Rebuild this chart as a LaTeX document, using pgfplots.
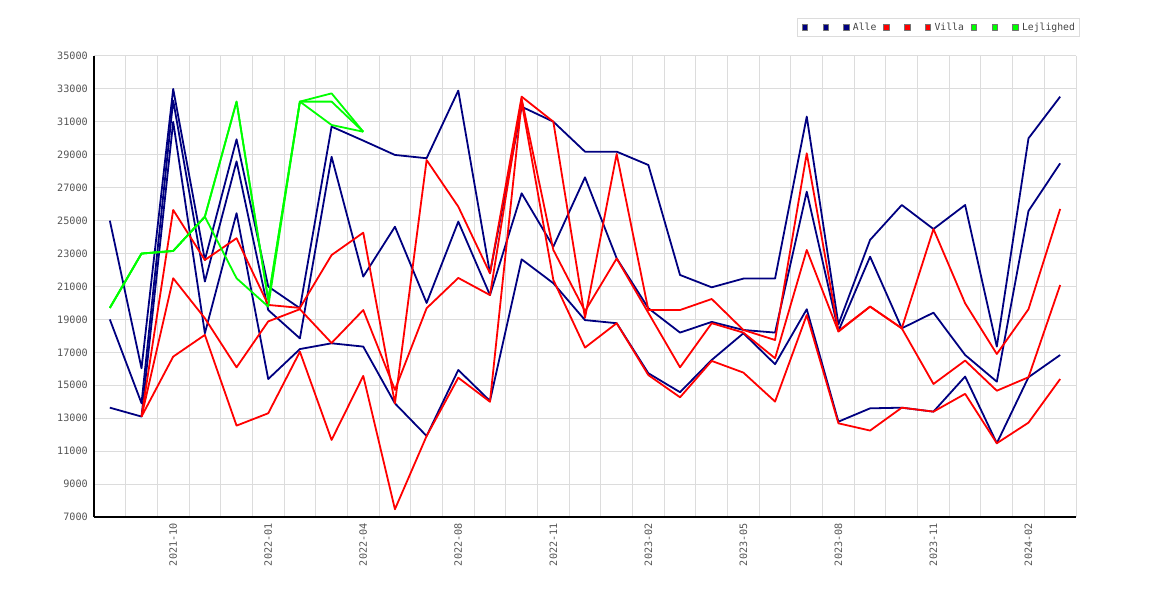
\documentclass[border=0pt]{standalone}
\usepackage{fontspec}
\setmonofont{DejaVu Sans Mono}
\usepackage{pgfplots}
\pgfplotsset{compat=1.18}
\definecolor{navyc}{HTML}{000080}
\definecolor{redc}{HTML}{FF0000}
\definecolor{greenc}{HTML}{00FF00}
\definecolor{gridc}{HTML}{DCDCDC}
\definecolor{tickc}{HTML}{555555}
\definecolor{legc}{HTML}{444444}
\pgfplotsset{
  sq/.style={legend image code/.code={\draw[line width=0.6bp, draw=black!55, fill=#1] (0bp,-2.75bp) rectangle (5.5bp,2.75bp);}},
  ser/.style={#1, line width=1.8bp, line join=round, sq=#1},
}
\begin{document}
\begin{tikzpicture}
\useasboundingbox (0,0) rectangle (1170bp,600bp);
\begin{axis}[
  at={(94bp,83bp)}, anchor=south west,
  scale only axis, width=982bp, height=461bp,
  xmin=-0.5, xmax=30.5, ymin=7000, ymax=35000,
  scaled y ticks=false, scaled x ticks=false,
  axis x line*=bottom, axis y line*=left,
  axis line style={-, line width=1.2bp, black},
  xtick={2,5,8,11,14,17,20,23,26,29},
  xticklabels={2021-10,2022-01,2022-04,2022-08,2022-11,2023-02,2023-05,2023-08,2023-11,2024-02},
  minor xtick={-0.5,0.5,...,30.5},
  ytick={7000,9000,...,35000},
  yticklabels={7000,9000,11000,13000,15000,17000,19000,21000,23000,25000,27000,29000,31000,33000,35000},
  xmajorgrids=false, xminorgrids=true, ymajorgrids=true,
  major grid style={draw=gridc, line width=1bp},
  minor grid style={draw=gridc, line width=1bp},
  major tick length=0pt, minor tick length=0pt,
  tick label style={font=\ttfamily\fontsize{10.2}{11}\selectfont, text=tickc},
  yticklabel style={anchor=east, inner sep=0pt, xshift=-6bp},
  xticklabel style={rotate=90, anchor=east, inner sep=0pt, xshift=-6bp},
  legend columns=-1,
  legend style={at={(0.716,1.0824)}, anchor=north west, draw=gridc, line width=1bp, fill=white,
    font=\ttfamily\fontsize{9.8}{11}\selectfont, text=legc,
    inner xsep=4.2bp, inner ysep=4.5bp,
    nodes={inner sep=0pt},
    /tikz/every odd column/.append style={column sep=3.6bp},
    /tikz/every even column/.append style={column sep=7bp}},
]
% Alle
\addplot[ser=navyc] coordinates {(0,25000)(1,16030)(2,33000)(3,22610)(4,29940)(5,21000)(6,19680)(7,30710)(8,29860)(9,28990)(10,28790)(11,32900)(12,21800)(13,31920)(14,31010)(15,29190)(16,29190)(17,28380)(18,21700)(19,20950)(20,21480)(21,21480)(22,31320)(23,18700)(24,23830)(25,25950)(26,24490)(27,25950)(28,17350)(29,30000)(30,32530)};
\addlegendentry{\hspace*{4bp}}
\addplot[ser=navyc] coordinates {(0,19000)(1,13910)(2,32300)(3,21300)(4,28600)(5,19570)(6,17850)(7,28880)(8,21600)(9,24630)(10,20000)(11,24940)(12,20480)(13,26660)(14,23420)(15,27630)(16,22710)(17,19680)(18,18200)(19,18850)(20,18360)(21,18200)(22,26760)(23,18300)(24,22810)(25,18460)(26,19410)(27,16840)(28,15220)(29,25590)(30,28480)};
\addlegendentry{\hspace*{4bp}}
\addplot[ser=navyc] coordinates {(0,13640)(1,13100)(2,31000)(3,18160)(4,25450)(5,15380)(6,17200)(7,17550)(8,17350)(9,13900)(10,11920)(11,15930)(12,14050)(13,22650)(14,21200)(15,18960)(16,18770)(17,15730)(18,14580)(19,16540)(20,18160)(21,16280)(22,19620)(23,12790)(24,13600)(25,13640)(26,13400)(27,15530)(28,11480)(29,15490)(30,16840)};
\addlegendentry{Alle}
% Villa
\addplot[ser=redc] coordinates {(1,13100)(2,25650)(3,22610)(4,23930)(5,19880)(6,19700)(7,22910)(8,24270)(9,13900)(10,28680)(11,25850)(12,21800)(13,32530)(14,31010)(15,19100)(16,29050)(17,19570)(18,19570)(19,20240)(20,18360)(21,17750)(22,29090)(23,18300)(24,19780)(25,18460)(26,24490)(27,19980)(28,16900)(29,19620)(30,25710)};
\addlegendentry{\hspace*{4bp}}
\addplot[ser=redc] coordinates {(1,13100)(2,21500)(3,19070)(4,16090)(5,18880)(6,19620)(7,17570)(8,19570)(9,14720)(10,19680)(11,21520)(12,20480)(13,32400)(14,23220)(15,19500)(16,22700)(17,19400)(18,16090)(19,18770)(20,18200)(21,16640)(22,23220)(23,18260)(24,19780)(25,18460)(26,15080)(27,16500)(28,14670)(29,15490)(30,21090)};
\addlegendentry{\hspace*{4bp}}
\addplot[ser=redc] coordinates {(1,13100)(2,16740)(3,18060)(4,12550)(5,13300)(6,17040)(7,11680)(8,15570)(9,7470)(10,11920)(11,15460)(12,14000)(13,32200)(14,21400)(15,17290)(16,18770)(17,15620)(18,14270)(19,16480)(20,15770)(21,14010)(22,19270)(23,12690)(24,12250)(25,13640)(26,13400)(27,14480)(28,11480)(29,12730)(30,15380)};
\addlegendentry{Villa}
% Lejlighed
\addplot[ser=greenc] coordinates {(0,19700)(1,23000)(2,23160)(3,25240)(4,32230)(5,20180)(6,32230)(7,32730)(8,30400)};
\addlegendentry{\hspace*{4bp}}
\addplot[ser=greenc] coordinates {(0,19700)(1,23000)(2,23160)(3,25240)(4,32230)(5,20180)(6,32230)(7,32230)(8,30400)};
\addlegendentry{\hspace*{4bp}}
\addplot[ser=greenc] coordinates {(0,19700)(1,23000)(2,23160)(3,25240)(4,21500)(5,19780)(6,32230)(7,30810)(8,30400)};
\addlegendentry{Lejlighed}
\end{axis}
\end{tikzpicture}
\end{document}
